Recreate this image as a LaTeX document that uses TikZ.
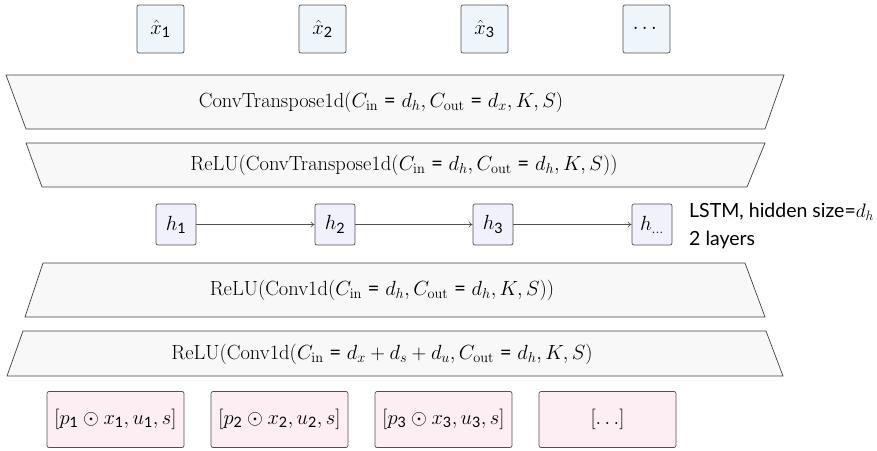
\RequirePackage{fix-cm}
\documentclass[tikz,border=0pt]{standalone}
\usepackage{amsmath}
\usepackage[no-math]{fontspec}
\setmainfont{Lato}
\usetikzlibrary{arrows.meta}
\definecolor{outc}{HTML}{EEF6FC}
\definecolor{hidc}{HTML}{F1F1FB}
\definecolor{layc}{HTML}{F8F8F8}
\definecolor{inc}{HTML}{FCEEF2}
\definecolor{edgec}{HTML}{505050}
\newcommand{\ds}[1]{{\text{#1}}}
\newcommand{\eq}{\mathrel{\text{=}}}
\begin{document}
\begin{tikzpicture}[x=1pt,y=-1pt,
  every node/.style={font=\fontsize{20.5}{24}\selectfont},
  outbox/.style={draw=edgec, fill=outc, rounded corners=2pt, minimum width=47pt, minimum height=48pt, line width=0.7pt},
  hidbox/.style={draw=edgec, fill=hidc, rounded corners=2pt, minimum width=40pt, minimum height=41pt, inner sep=2pt, line width=0.7pt},
  inbox/.style={draw=edgec, fill=inc, rounded corners=2pt, minimum width=137pt, minimum height=56pt, inner sep=2pt, line width=0.7pt},
  layer/.style={draw=edgec!80!black, fill=layc, line width=0.7pt},
  conn/.style={draw=edgec, line width=0.6pt, -{To[length=4pt,width=6pt]}},
  lbl/.style={anchor=west, inner sep=0pt, font=\fontsize{19.5}{23}\selectfont}
]
\useasboundingbox (0,0) rectangle (877,450);

% output boxes
\node[outbox] (o1) at (160.5,29) {$\hat{x}_{\ds{1}}$};
\node[outbox] (o2) at (322.5,29) {$\hat{x}_{\ds{2}}$};
\node[outbox] (o3) at (484.5,29) {$\hat{x}_{\ds{3}}$};
\node[outbox] (o4) at (646.5,29) {$\cdots$};

% decoder layers
\draw[layer] (6,75) -- (784,75) -- (765,129) -- (26,129) -- cycle;
\node (l1) at (381,102) {$\mathrm{ConvTranspose1d}(C_{\mathrm{in}} \eq d_h, C_{\mathrm{out}} \eq d_x, K, S)$};
\draw[layer] (26,143) -- (765,143) -- (747,187) -- (42,187) -- cycle;
\node (l2) at (404,165) {$\mathrm{ReLU}(\mathrm{ConvTranspose1d}(C_{\mathrm{in}} \eq d_h, C_{\mathrm{out}} \eq d_h, K, S))$};

% hidden
\node[hidbox] (h1) at (176,224.5) {$h_{\ds{1}}$};
\node[hidbox] (h2) at (335,224.5) {$h_{\ds{2}}$};
\node[hidbox] (h3) at (493,224.5) {$h_{\ds{3}}$};
\node[hidbox] (h4) at (652,224.5) {$h_{\dots}$};
\draw[conn] (h1) -- (h2);
\draw[conn] (h2) -- (h3);
\draw[conn] (h3) -- (h4);
\node[lbl] (lstm1) at (689,212) {LSTM, hidden size=$d_h$};
\node[lbl] (lstm2) at (689,240) {2 layers};

% encoder layers
\draw[layer] (43,263) -- (745,263) -- (765,317) -- (25,317) -- cycle;
\node (l3) at (382,290) {$\mathrm{ReLU}(\mathrm{Conv1d}(C_{\mathrm{in}} \eq d_h, C_{\mathrm{out}} \eq d_h, K, S))$};
\draw[layer] (23,331) -- (766,331) -- (783,376) -- (7,376) -- cycle;
\node (l4) at (382,354) {$\mathrm{ReLU}(\mathrm{Conv1d}(C_{\mathrm{in}} \eq d_x + d_s + d_u, C_{\mathrm{out}} \eq d_h, K, S)$};

% input boxes
\node[inbox] (i1) at (115.5,419.5) {$[p_{\ds{1}} \odot x_{\ds{1}}, u_{\ds{1}}, s]$};
\node[inbox] (i2) at (279.5,419.5) {$[p_{\ds{2}} \odot x_{\ds{2}}, u_{\ds{2}}, s]$};
\node[inbox] (i3) at (443.5,419.5) {$[p_{\ds{3}} \odot x_{\ds{3}}, u_{\ds{3}}, s]$};
\node[inbox] (i4) at (607.5,419.5) {$[\ldots]$};
\end{tikzpicture}
\end{document}
